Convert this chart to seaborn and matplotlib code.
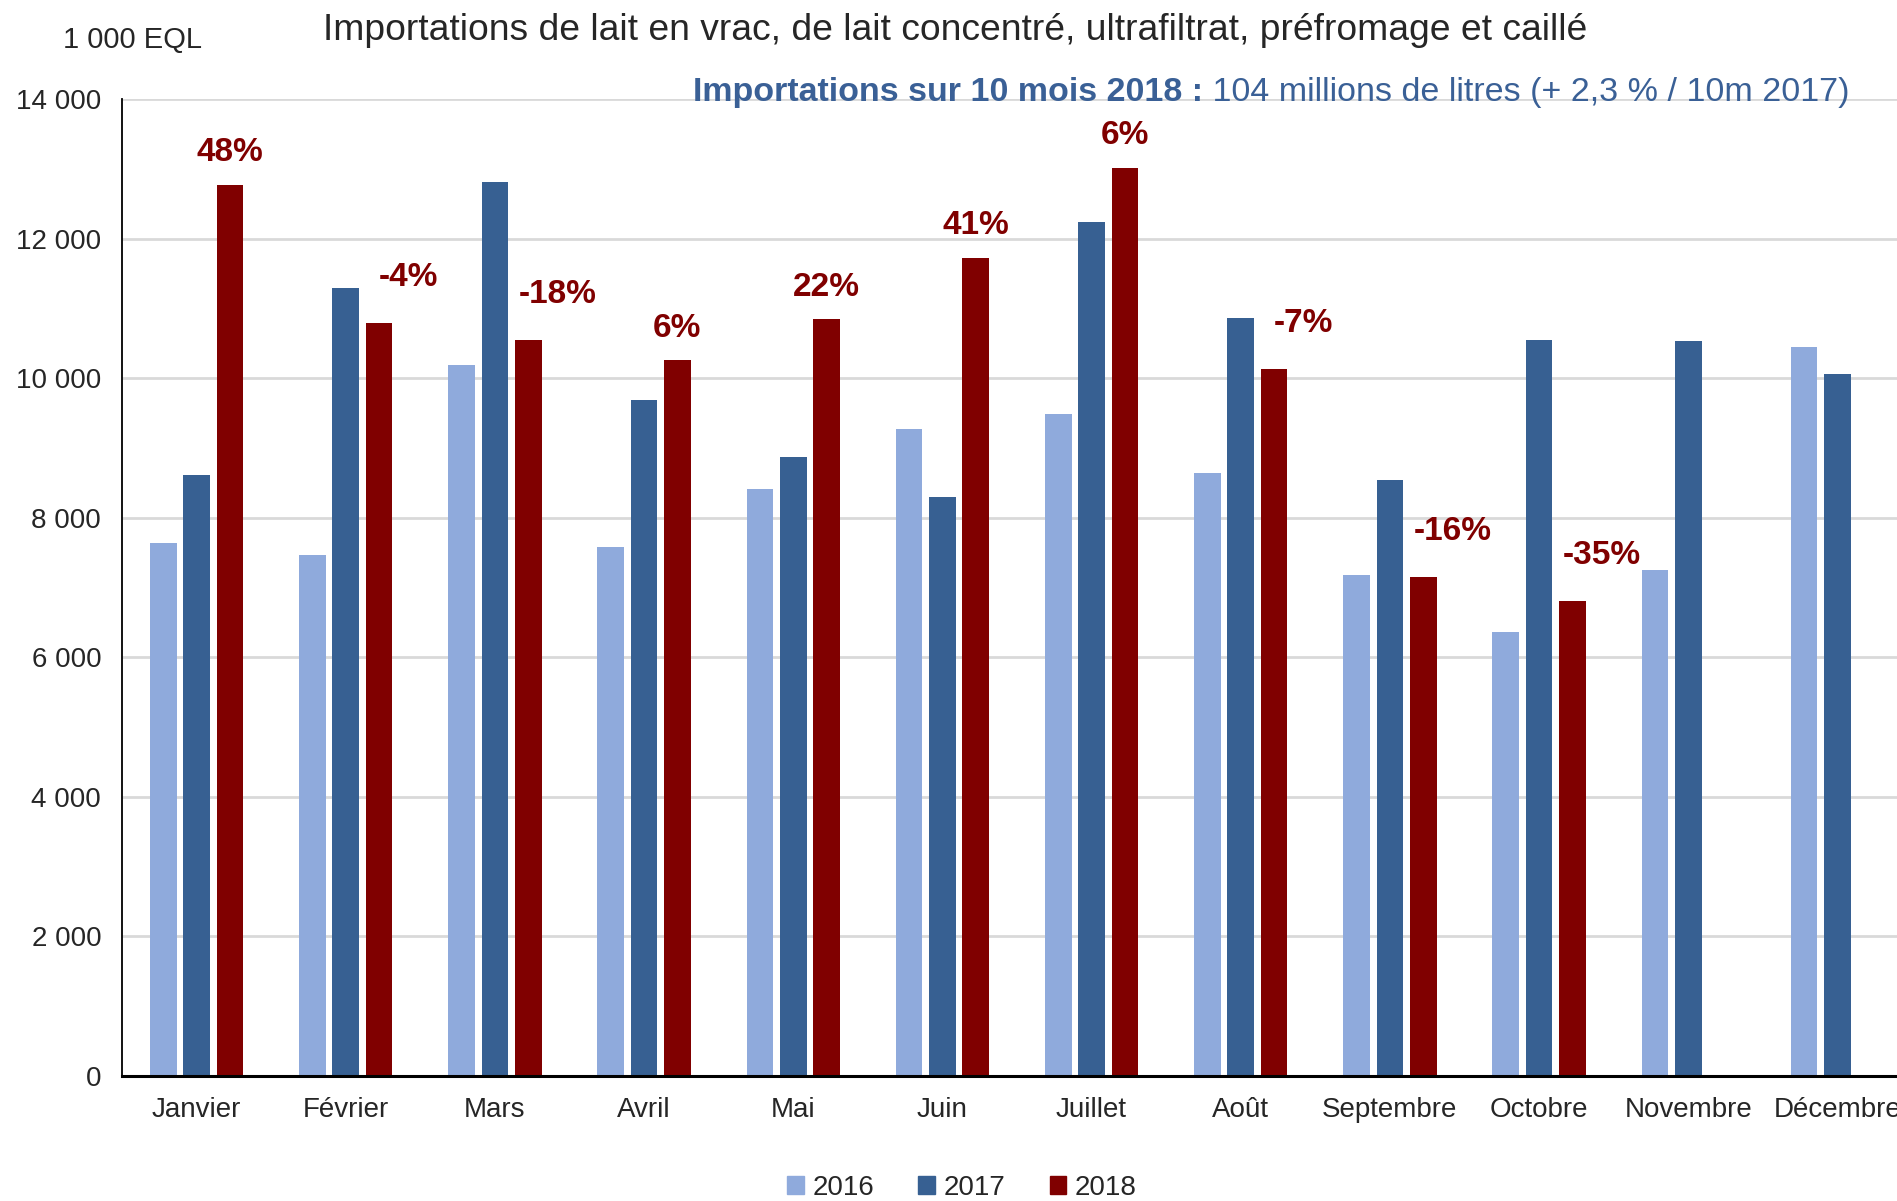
import matplotlib.pyplot as plt
import matplotlib.ticker as mticker
import pandas as pd
import seaborn as sns
import numpy as np

# Data (1 000 EQL)
months = ["Janvier", "Février", "Mars", "Avril", "Mai", "Juin",
          "Juillet", "Août", "Septembre", "Octobre", "Novembre", "Décembre"]
imports_2016 = [7634, 7460, 10184, 7582, 8414, 9264, 9490, 8640, 7183, 6367, 7252, 10444]
imports_2017 = [8605, 11294, 12804, 9681, 8865, 8293, 12231, 10860, 8536, 10548, 10531, 10062]
imports_2018 = [12769, 10791, 10548, 10253, 10843, 11728, 13012, 10132, 7148, 6801, np.nan, np.nan]
evol_2018 = ["48%", "-4%", "-18%", "6%", "22%", "41%", "6%", "-7%", "-16%", "-35%"]
years = ["2016", "2017", "2018"]
colors = ["#8FAADC", "#376092", "#800000"]

df = pd.DataFrame({
    "mois": months * 3,
    "annee": np.repeat(years, len(months)),
    "valeur": imports_2016 + imports_2017 + imports_2018,
})

sns.set_style("white")
plt.rcParams["font.family"] = ["Liberation Sans", "DejaVu Sans"]

fig = plt.figure(figsize=(18.97, 12.01), dpi=100)
ax = fig.add_axes([0.0643, 0.1041, 0.9436, 0.8135])

sns.barplot(data=df, x="mois", y="valeur", hue="annee", hue_order=years,
            order=months, palette=colors, saturation=1, errorbar=None,
            width=0.67, gap=0.2, linewidth=0, ax=ax)
ax.legend_.remove()

# % change labels above the 2018 bars
slot = 0.67 / 3
for i, lab in enumerate(evol_2018):
    neg = lab.startswith("-")
    ax.annotate(lab, (i + slot + (0.2 if neg else 0), imports_2018[i]),
                xytext=(0, 33 if neg else 23), textcoords="offset points",
                ha="center", va="center", fontsize=24, fontweight="bold",
                color="#800000")

ax.set_xlim(-0.5, 11.5)
ax.set_ylim(0, 14000)
ax.set_xlabel("")
ax.set_ylabel("")

ax.set_xticks(np.arange(-0.5, 12, 1))
ax.set_xticklabels([])
ax.set_xticks(np.arange(12), minor=True)
ax.set_xticklabels(months, minor=True, fontsize=20)
ax.tick_params(axis="x", which="major", length=10, width=1.2, color="black", direction="out")
ax.tick_params(axis="x", which="minor", length=0, pad=15)

ax.set_yticks(np.arange(0, 14001, 2000))
ax.yaxis.set_major_formatter(mticker.FuncFormatter(lambda v, p: f"{int(v):,}".replace(",", " ")))
ax.tick_params(axis="y", length=5, width=1.2, color="black", direction="out", pad=10, labelsize=20)

ax.yaxis.grid(True, color="#D9D9D9", linewidth=2)
ax.set_axisbelow(True)
for s in ["top", "right"]:
    ax.spines[s].set_visible(False)
ax.spines["left"].set_color("black")
ax.spines["left"].set_linewidth(1.3)
ax.spines["bottom"].set_color("black")
ax.spines["bottom"].set_linewidth(2.2)

fig.text(0.0332, 0.967, "1 000 EQL", ha="left", va="center", fontsize=21)
fig.text(0.5034, 0.975, "Importations de lait en vrac, de lait concentré, ultrafiltrat, préfromage et caillé",
         ha="center", va="center", fontsize=26.8)

reg = fig.text(0.9747, 0.923, " 104 millions de litres (+ 2,3 % / 10m 2017)",
               ha="right", va="center", fontsize=24.5, color="#3A6096")
ax.annotate("Importations sur 10 mois 2018 :", xy=(0, 0), xycoords=reg,
            ha="right", va="bottom", fontsize=24.5, fontweight="bold", color="#3A6096")

handles = [plt.Rectangle((0, 0), 1, 1, color=c) for c in colors]
fig.legend(handles, years, loc="center", bbox_to_anchor=(0.507, 0.011), ncol=3,
           frameon=False, fontsize=20, handlelength=0.6, handleheight=0.6,
           handletextpad=0.3, columnspacing=1.6)

fig.savefig("out.png", dpi=100)
